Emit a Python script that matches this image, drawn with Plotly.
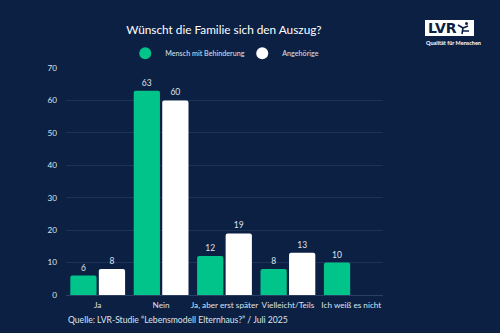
import plotly.graph_objects as go

categories = ["Ja", "Nein", "Ja, aber erst später", "Vielleicht/Teils", "Ich weiß es nicht"]
mensch = [6, 63, 12, 8, 10]
angehoerige = [8, 60, 19, 13, None]
y_ticks = [0, 10, 20, 30, 40, 50, 60, 70]

BG = "#0c2044"
GREEN = "#00c48a"
TXT = "#dfe3ea"
FONT = "Lato, 'Noto Sans', sans-serif"

fig = go.Figure()
fig.add_bar(
    name="Mensch mit Behinderung", x=categories, y=mensch, showlegend=False,
    marker=dict(color=GREEN, cornerradius=2, line=dict(width=0)),
    text=mensch, textposition="outside",
    textfont=dict(color=TXT, size=8.5), cliponaxis=False,
)
fig.add_bar(
    name="Angehörige", x=categories, y=angehoerige, showlegend=False,
    marker=dict(color="#ffffff", cornerradius=2, line=dict(width=0)),
    text=[v if v is not None else "" for v in angehoerige], textposition="outside",
    textfont=dict(color=TXT, size=8.5), cliponaxis=False,
)
# round legend markers
for name, col in [("Mensch mit Behinderung", GREEN), ("Angehörige", "#ffffff")]:
    fig.add_scatter(x=[None], y=[None], mode="markers", name=name,
                    marker=dict(symbol="circle", size=9, color=col))

fig.update_layout(
    width=500, height=333,
    paper_bgcolor=BG, plot_bgcolor=BG,
    font=dict(family=FONT, color=TXT, size=8.5),
    margin=dict(l=66, r=117, t=68, b=38, autoexpand=False),
    barmode="group", bargap=0.1, bargroupgap=0.08,
    title=dict(text="Wünscht die Familie sich den Auszug?", x=0.448, xanchor="center",
               y=0.91, yanchor="middle", font=dict(size=11.8, color="#ffffff")),
    legend=dict(orientation="h", x=0.556, xanchor="center", y=1.065, yanchor="middle",
                font=dict(size=7.2, color=TXT), itemsizing="constant",
                bgcolor="rgba(0,0,0,0)", itemwidth=30, tracegroupgap=0,
                entrywidth=72, entrywidthmode="pixels"),
    showlegend=True,
)
fig.update_yaxes(range=[0, 70], tickvals=y_ticks, showgrid=True, gridcolor="#1c3257",
                 gridwidth=1, zeroline=False, ticks="", ticklabelstandoff=8,
                 tickfont=dict(size=8.2, color=TXT), showline=False, automargin=False)
fig.update_xaxes(showline=True, linecolor="#2a3f63", linewidth=1, ticks="",
                 tickangle=0, automargin=False,
                 tickfont=dict(size=8.2, color=TXT), ticklabelstandoff=2)

# Source line
fig.add_annotation(text="Quelle: LVR-Studie “Lebensmodell Elternhaus?” / Juli 2025",
                   xref="paper", yref="paper", x=0, xanchor="left", y=-0.11, yanchor="middle",
                   showarrow=False, font=dict(size=8.6, color=TXT))

# LVR logo
fx = lambda px: (px - 66) / 317
fy = lambda py: (295 - py) / 227
fig.add_shape(type="rect", xref="paper", yref="paper",
              x0=fx(425), x1=fx(474), y0=fy(36), y1=fy(20),
              fillcolor="#ffffff", line=dict(width=0), layer="above")
fig.add_annotation(text="<b>LVR</b>", xref="paper", yref="paper",
                   x=fx(426), xanchor="left", y=fy(28), yanchor="middle",
                   showarrow=False, font=dict(size=14, color=BG, family="'DejaVu Sans', sans-serif"))
# stylised figure in the logo
fig.add_shape(type="path", xref="paper", yref="paper",
              path=f"M {fx(462)} {fy(34)} L {fx(463)} {fy(28)} L {fx(458)} {fy(25)} "
                   f"M {fx(463)} {fy(28)} L {fx(468)} {fy(26)} "
                   f"M {fx(463)} {fy(31)} L {fx(469)} {fy(31)}",
              line=dict(color=BG, width=1.6), layer="above")
fig.add_shape(type="circle", xref="paper", yref="paper",
              x0=fx(465), x1=fx(468), y0=fy(25), y1=fy(22),
              fillcolor=BG, line=dict(width=0), layer="above")
fig.add_annotation(text="<b>Qualität für Menschen</b>", xref="paper", yref="paper",
                   x=fx(424), xanchor="left", y=fy(43), yanchor="middle",
                   showarrow=False, font=dict(size=5.5, color="#ffffff"))

fig.write_html("out.html")
